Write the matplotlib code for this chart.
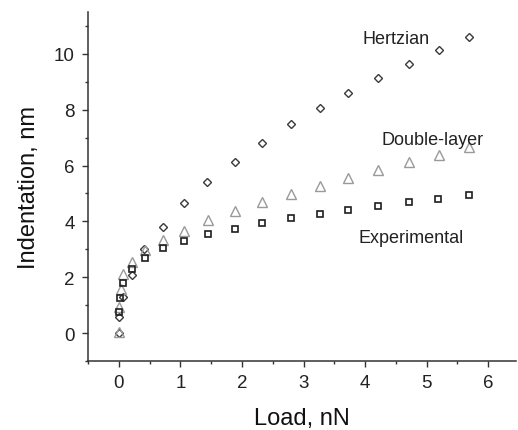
import matplotlib
matplotlib.use("Agg")
import matplotlib.pyplot as plt
from matplotlib.ticker import MultipleLocator

plt.rcParams['font.family'] = ['Liberation Sans', 'DejaVu Sans']

# Hertzian model (diamonds)
hertz_load = [0.0, 0.005, 0.06, 0.21, 0.41, 0.72, 1.06, 1.44, 1.88, 2.33,
              2.79, 3.26, 3.72, 4.21, 4.71, 5.20, 5.69]
hertz_ind = [0.0, 0.56, 1.31, 2.09, 3.01, 3.80, 4.66, 5.40, 6.14, 6.81,
             7.47, 8.05, 8.60, 9.14, 9.64, 10.15, 10.60]

# Double-layer model (triangles)
dl_load = [0.0, 0.005, 0.03, 0.07, 0.21, 0.42, 0.72, 1.06, 1.45, 1.89,
           2.33, 2.80, 3.27, 3.73, 4.21, 4.72, 5.20, 5.69]
dl_ind = [0.05, 0.93, 1.58, 2.12, 2.55, 2.96, 3.32, 3.66, 4.04, 4.37,
          4.69, 4.98, 5.27, 5.57, 5.85, 6.12, 6.38, 6.65]

# Experimental data (squares)
exp_load = [0.0, 0.02, 0.07, 0.21, 0.43, 0.72, 1.06, 1.45, 1.89, 2.32,
            2.79, 3.26, 3.73, 4.21, 4.71, 5.19, 5.69]
exp_ind = [0.75, 1.25, 1.81, 2.31, 2.69, 3.04, 3.31, 3.55, 3.74, 3.94,
           4.11, 4.27, 4.40, 4.54, 4.70, 4.81, 4.96]

fig = plt.figure(figsize=(5.18, 4.31), dpi=100)
ax = fig.add_axes([0.170, 0.160, 0.826, 0.810])

ax.plot(hertz_load, hertz_ind, linestyle='none', marker='D', ms=4.5,
        mfc='none', mec='#3a3a3a', mew=1.0)
ax.plot(dl_load, dl_ind, linestyle='none', marker='^', ms=6.5,
        mfc='none', mec='#9a9a9a', mew=1.0)
ax.plot(exp_load, exp_ind, linestyle='none', marker='s', ms=4.2,
        mfc='none', mec='#1e1e1e', mew=1.2)

ax.text(3.95, 10.37, 'Hertzian', fontsize=13, color='#222222')
ax.text(4.26, 6.78, 'Double-layer', fontsize=13, color='#222222')
ax.text(3.89, 3.26, 'Experimental', fontsize=13, color='#222222')

ax.set_xlim(-0.5, 6.45)
ax.set_ylim(-1, 11.5)
ax.xaxis.set_major_locator(MultipleLocator(1))
ax.xaxis.set_minor_locator(MultipleLocator(0.5))
ax.yaxis.set_major_locator(MultipleLocator(2))
ax.yaxis.set_minor_locator(MultipleLocator(1))

for side in ['top', 'right']:
    ax.spines[side].set_visible(False)
for side in ['left', 'bottom']:
    ax.spines[side].set_linewidth(1.1)
    ax.spines[side].set_color('#333333')

ax.tick_params(which='major', direction='out', length=4.5, width=1.0,
               color='#333333', labelsize=13.5, labelcolor='#222222', pad=5)
ax.tick_params(which='minor', direction='out', length=2.5, width=1.0,
               color='#333333')

ax.set_xlabel('Load, nN', fontsize=17, color='#111111', labelpad=11)
ax.set_ylabel('Indentation, nm', fontsize=17, color='#111111', labelpad=10)

plt.savefig('out.png', dpi=100)
